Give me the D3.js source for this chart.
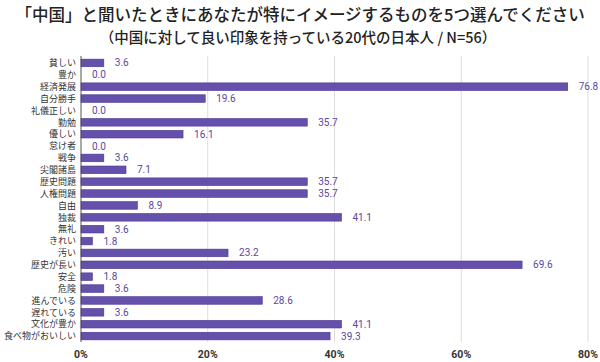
<!DOCTYPE html>
<html>
<head>
<meta charset="utf-8">
<script src="https://cdn.jsdelivr.net/npm/d3@7"></script>
<style>
  body { margin: 0; background: #fff; }
  text { font-family: "Noto Sans CJK JP", "Noto Sans", sans-serif; }
  .num { font-family: Roboto, "Noto Sans", sans-serif; }
</style>
</head>
<body>
<script>
var width = 600,
    height = 362;

var categories = ['貧しい', '豊か', '経済発展', '自分勝手', '礼儀正しい', '勤勉', '優しい', '怠け者',
  '戦争', '尖閣諸島', '歴史問題', '人権問題', '自由', '独裁', '無礼', 'きれい', '汚い',
  '歴史が長い', '安全', '危険', '進んでいる', '遅れている', '文化が豊か', '食べ物がおいしい'];
var values = [3.6, 0.0, 76.8, 19.6, 0.0, 35.7, 16.1, 0.0, 3.6, 7.1, 35.7, 35.7, 8.9, 41.1,
  3.6, 1.8, 23.2, 69.6, 1.8, 3.6, 28.6, 3.6, 41.1, 39.3];
var xTicks = [0, 20, 40, 60, 80];

var barColor = '#6550ab';

var margin = { top: 57, right: 12, left: 81, bottom: 20 };

var svg = d3.select('body')
  .append('svg')
  .attr('width', width)
  .attr('height', height);

var xScale = d3.scaleLinear()
  .domain([0, 80])
  .range([margin.left, 588]);

var yScale = d3.scaleBand()
  .domain(categories)
  .range([margin.top, 342])
  .paddingInner(0.36)
  .paddingOuter(0.18);

// grid
svg.selectAll('.grid')
  .data(xTicks.slice(1))
  .enter()
  .append('line')
  .attr('x1', d => xScale(d))
  .attr('x2', d => xScale(d))
  .attr('y1', 56)
  .attr('y2', 342)
  .attr('stroke', '#ddd')
  .attr('stroke-width', 1);

// axis labels
svg.selectAll('.xlab')
  .data(xTicks)
  .enter()
  .append('text')
  .attr('class', 'num')
  .attr('x', d => xScale(d))
  .attr('y', 358)
  .attr('text-anchor', 'middle')
  .style('font-size', '10.5px')
  .style('font-weight', 'bold')
  .attr('fill', '#333')
  .text(d => d + '%');

// bars
svg.selectAll('.bar')
  .data(values)
  .enter()
  .append('rect')
  .attr('x', xScale(0))
  .attr('y', (d, i) => yScale(categories[i]))
  .attr('width', d => xScale(d) - xScale(0))
  .attr('height', yScale.bandwidth())
  .attr('fill', barColor)
  .attr('stroke', '#4a3590')
  .attr('stroke-width', d => d > 0 ? 0.6 : 0);

// zero axis
svg.append('line')
  .attr('x1', xScale(0))
  .attr('x2', xScale(0))
  .attr('y1', 56)
  .attr('y2', 342)
  .attr('stroke', '#555')
  .attr('stroke-width', 1);

// value labels
svg.selectAll('.val')
  .data(values)
  .enter()
  .append('text')
  .attr('class', 'num')
  .attr('x', d => xScale(d) + 11)
  .attr('y', (d, i) => yScale(categories[i]) + yScale.bandwidth() / 2 + 3.5)
  .style('font-size', '10px')
  .attr('fill', '#5a479e')
  .text(d => d.toFixed(1));

// category labels
svg.selectAll('.cat')
  .data(categories)
  .enter()
  .append('text')
  .attr('x', 76)
  .attr('y', d => yScale(d) + yScale.bandwidth() / 2 + 3.2)
  .attr('text-anchor', 'end')
  .style('font-size', '9px')
  .attr('fill', '#333')
  .text(d => d);

// titles
svg.append('text')
  .attr('x', 300)
  .attr('y', 21)
  .attr('text-anchor', 'middle')
  .style('font-size', '16.5px')
  .style('font-weight', '500')
  .attr('fill', '#222')
  .text('「中国」と聞いたときにあなたが特にイメージするものを5つ選んでください');

svg.append('text')
  .attr('x', 298)
  .attr('y', 43)
  .attr('text-anchor', 'middle')
  .style('font-size', '14.5px')
  .style('font-weight', '500')
  .attr('fill', '#222')
  .text('（中国に対して良い印象を持っている20代の日本人 / N=56）');
</script>
</body>
</html>
